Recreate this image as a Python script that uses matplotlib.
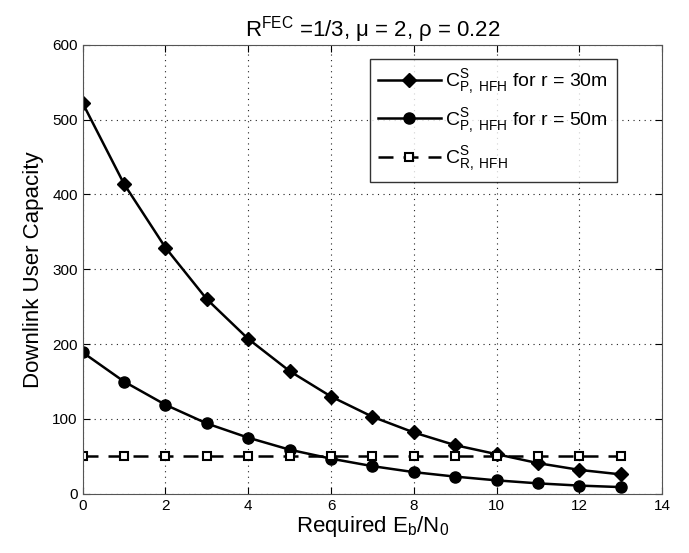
import numpy as np
import matplotlib
matplotlib.use('Agg')
import matplotlib.pyplot as plt

plt.rcParams['font.family'] = ['Liberation Sans', 'DejaVu Sans']
plt.rcParams['mathtext.fontset'] = 'custom'
plt.rcParams['mathtext.rm'] = 'Liberation Sans'
plt.rcParams['mathtext.it'] = 'Liberation Sans'

# data
ebno = [0, 1, 2, 3, 4, 5, 6, 7, 8, 9, 10, 11, 12, 13]
cap_r30 = [522, 414, 329, 260, 207, 164, 130, 103, 82, 65, 53, 41, 32, 26]
cap_r50 = [189, 150, 119, 94, 75, 59, 47, 37, 29, 23, 18, 14, 11, 9]
cap_relay = [50] * 14

fig = plt.figure(figsize=(6.89, 5.53), dpi=100)
ax = fig.add_axes([0.12, 0.107, 0.841, 0.812])

ax.plot(ebno, cap_r30, 'k-', marker='D', markersize=7, linewidth=1.8,
        label=r'$\mathregular{C^{S}_{P,\ HFH}}$ for r = 30m')
ax.plot(ebno, cap_r50, 'k-', marker='o', markersize=8, linewidth=1.8,
        label=r'$\mathregular{C^{S}_{P,\ HFH}}$ for r = 50m')
ax.plot(ebno, cap_relay, 'k--', marker='s', markersize=5.5, linewidth=1.8,
        markerfacecolor='white', markeredgewidth=1.5, dashes=(6, 4),
        label=r'$\mathregular{C^{S}_{R,\ HFH}}$')

ax.set_xlim(0, 14)
ax.set_ylim(0, 600)
ax.set_xticks(np.arange(0, 15, 2))
ax.set_yticks(np.arange(0, 601, 100))
ax.tick_params(direction='in', labelsize=11, top=True, right=True, length=5)
ax.grid(True, linestyle=(0, (1, 4)), color='#222222', linewidth=0.8)
for s in ax.spines.values():
    s.set_color('#555555')

ax.set_xlabel(r'Required E$\mathregular{_b}$/N$\mathregular{_0}$', fontsize=16, labelpad=1)
ax.set_ylabel('Downlink User Capacity', fontsize=16, labelpad=6)
ax.set_title(r'R$\mathregular{^{FEC}}$ =1/3, μ = 2, ρ = 0.22', fontsize=16)

leg = ax.legend(loc='upper right', fontsize=14, fancybox=False, edgecolor='black',
                handlelength=3.2, handletextpad=0.25, borderpad=0.45, labelspacing=0.5,
                borderaxespad=0, bbox_to_anchor=(0.922, 0.969))
leg.get_frame().set_linewidth(1.0)

fig.savefig('out.png', dpi=100)
